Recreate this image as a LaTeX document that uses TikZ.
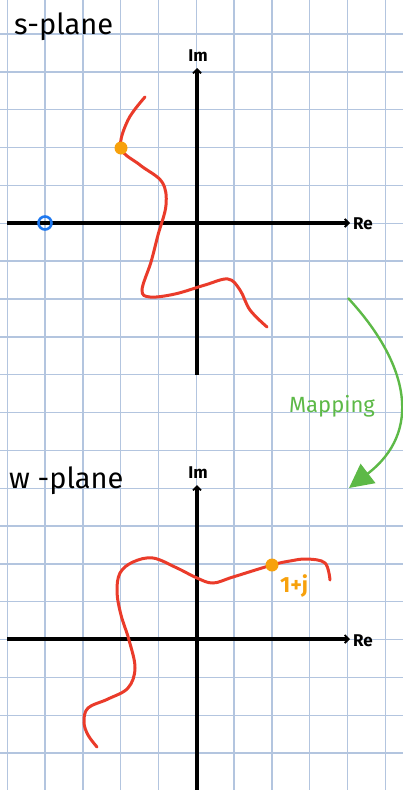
\documentclass[tikz,border=0pt]{standalone}
\usepackage{fontspec}
\setmainfont{Fira Sans}
\usetikzlibrary{arrows.meta}
\definecolor{gridc}{HTML}{B3C5DF}
\definecolor{curvec}{HTML}{EA3B2A}
\definecolor{dotc}{HTML}{F7A10C}
\definecolor{zeroc}{HTML}{1E78F0}
\definecolor{mapc}{HTML}{5DB947}
\tikzset{
  gridline/.style={gridc, line width=1.4pt},
  axisline/.style={black, line width=3.2pt, -{Straight Barb[length=4pt,width=8pt,line width=1.8pt]}},
  axislabel/.style={font=\bfseries\fontsize{17}{17}\selectfont, inner sep=0pt},
  planelabel/.style={font=\fontsize{29}{29}\selectfont, inner sep=0pt, anchor=west},
  curve/.style={curvec, line width=3pt, line cap=round},
  dot/.style={circle, fill=dotc, minimum size=13pt, inner sep=0pt},
  zero/.style={circle, draw=zeroc, line width=2.6pt, minimum size=13pt, inner sep=0pt},
}
\begin{document}
\begin{tikzpicture}[x=1pt,y=-1pt]
\useasboundingbox (0,0) rectangle (403,790);
% grid
\foreach \k in {0,...,10} { \draw[gridline] (7.3+37.8*\k,0) -- (7.3+37.8*\k,790); }
\foreach \k in {0,...,20} { \draw[gridline] (0,34+37.85*\k) -- (403,34+37.85*\k); }
% ---------- s-plane ----------
\coordinate (sReL) at (7,223);
\coordinate (sReR) at (350,223);
\coordinate (sImB) at (197,375);
\coordinate (sImT) at (197,68);
\draw[axisline] (sReL) -- (sReR);
\draw[axisline] (sImB) -- (sImT);
\node[axislabel] (sIm) at (198,56) {Im};
\node[axislabel, anchor=west] (sRe) at (353,224) {Re};
\node[planelabel] (stitle) at (14,27) {s-plane};
\draw[curve] plot[smooth, tension=0.6] coordinates {
  (145,97) (128,120) (121,148) (140,165) (162,182) (166,205) (158,235) (151,262) (142,290) (150,297) (175,294) (205,285) (228,279) (240,290) (250,310) (267,327)};
\node[dot] (sdot) at (121,148) {};
\node[zero] (szero) at (45,223) {};
% ---------- mapping arrow ----------
\coordinate (mapS) at (348,298);
\coordinate (mapE) at (349,488);
\draw[mapc, line width=2.4pt, -{Triangle[length=24pt,width=24pt]}] (mapS) .. controls (410,365) and (422,432) .. (mapE);
\node[mapc, font=\fontsize{22}{22}\selectfont, inner sep=0pt] (maplabel) at (332,406) {Mapping};
% ---------- w-plane ----------
\coordinate (wReL) at (7,639);
\coordinate (wReR) at (350,639);
\coordinate (wImB) at (197,790);
\coordinate (wImT) at (197,485);
\draw[axisline] (wReL) -- (wReR);
\draw[axisline] (wImB) -- (wImT);
\node[axislabel] (wIm) at (198,473) {Im};
\node[axislabel, anchor=west] (wRe) at (353,641) {Re};
\node[planelabel] (wtitle) at (9,481) {w -plane};
\draw[curve] plot[smooth, tension=0.6] coordinates {
  (330,580) (325,563) (307,559) (290,561) (272,565) (233,577) (213,583) (197,578) (177,568) (153,558) (133,562) (120,573) (117,592) (121,615) (129,640) (135,668) (128,688) (108,699) (88,708) (84,722) (88,735) (97,747)};
\node[dot] (wdot) at (272,565) {};
\node[dotc, font=\bfseries\fontsize{22}{22}\selectfont, inner sep=0pt] (wlab) at (294,586) {1+j};
\end{tikzpicture}
\end{document}
